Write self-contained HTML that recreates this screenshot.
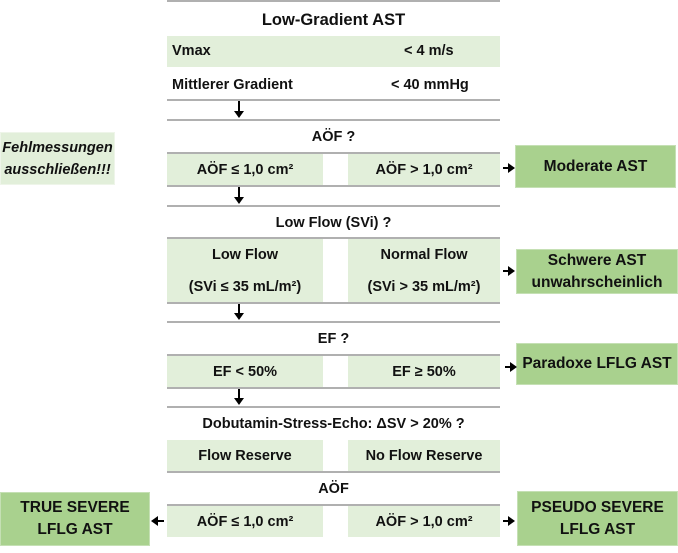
<!DOCTYPE html>
<html><head><meta charset="utf-8"><style>
body{margin:0;width:678px;height:553px;background:#fff;position:relative;overflow:hidden;font-family:"Liberation Sans",sans-serif;font-weight:bold;font-size:14.5px;color:#111}
div{position:absolute;box-sizing:border-box}
.l{left:167px;width:333px;height:2px;background:#b0b0b0}
.g{background:#e2efda}
.c{display:flex;align-items:center;justify-content:center;text-align:center}
.d{background:#a9d18e;border:1px solid #c5e0b4;font-size:15.5px;line-height:22px}
.va{width:2px;background:#000}
.ah{width:0;height:0;border-left:5px solid transparent;border-right:5px solid transparent;border-top:7px solid #000}
.hr{height:2px;background:#000}
.ar{width:0;height:0;border-top:5px solid transparent;border-bottom:5px solid transparent;border-left:7px solid #000}
.al{width:0;height:0;border-top:5px solid transparent;border-bottom:5px solid transparent;border-right:7px solid #000}
</style></head><body>
<div class="l" style="top:0"></div>
<div class="c" style="left:167px;width:333px;top:4px;height:32px;font-size:16.5px">Low-Gradient AST</div>
<div class="g" style="left:167px;width:333px;top:36px;height:31px"></div>
<div style="left:172px;top:43px">Vmax</div><div style="left:404px;top:43px">&lt; 4 m/s</div>
<div style="left:172px;top:77px">Mittlerer Gradient</div><div style="left:391px;top:77px">&lt; 40 mmHg</div>
<div class="l" style="top:99px"></div>
<div class="l" style="top:119px"></div>
<div class="c" style="left:167px;width:333px;top:121px;height:31px">AÖF ?</div>
<div class="l" style="top:152px"></div>
<div class="g c" style="left:167px;width:156px;top:154px;height:31px">AÖF ≤ 1,0 cm²</div>
<div class="g c" style="left:348px;width:152px;top:154px;height:31px">AÖF &gt; 1,0 cm²</div>
<div class="l" style="top:185px"></div>
<div class="l" style="top:205px"></div>
<div class="c" style="left:167px;width:333px;top:207px;height:31px">Low Flow (SVi) ?</div>
<div class="l" style="top:237px"></div>
<div class="g c" style="left:167px;width:156px;top:239px;height:63px;line-height:32px">Low Flow<br>(SVi ≤ 35 mL/m²)</div>
<div class="g c" style="left:348px;width:152px;top:239px;height:63px;line-height:32px">Normal Flow<br>(SVi &gt; 35 mL/m²)</div>
<div class="l" style="top:302px"></div>
<div class="l" style="top:321px"></div>
<div class="c" style="left:167px;width:333px;top:323px;height:31px">EF ?</div>
<div class="l" style="top:354px"></div>
<div class="g c" style="left:167px;width:156px;top:356px;height:31px">EF &lt; 50%</div>
<div class="g c" style="left:348px;width:152px;top:356px;height:31px">EF ≥ 50%</div>
<div class="l" style="top:387px"></div>
<div class="l" style="top:406px"></div>
<div class="c" style="left:167px;width:333px;top:408px;height:31px">Dobutamin-Stress-Echo: ΔSV &gt; 20% ?</div>
<div class="g c" style="left:167px;width:156px;top:440px;height:31px">Flow Reserve</div>
<div class="g c" style="left:348px;width:152px;top:440px;height:31px">No Flow Reserve</div>
<div class="l" style="top:471px"></div>
<div class="c" style="left:167px;width:333px;top:473px;height:31px">AÖF</div>
<div class="l" style="top:504px"></div>
<div class="g c" style="left:167px;width:156px;top:506px;height:31px">AÖF ≤ 1,0 cm²</div>
<div class="g c" style="left:348px;width:152px;top:506px;height:31px">AÖF &gt; 1,0 cm²</div>
<div class="va" style="left:238px;top:101px;height:11px"></div><div class="ah" style="left:234px;top:111px"></div>
<div class="va" style="left:238px;top:187px;height:11px"></div><div class="ah" style="left:234px;top:197px"></div>
<div class="va" style="left:238px;top:304px;height:10px"></div><div class="ah" style="left:234px;top:313px"></div>
<div class="va" style="left:238px;top:389px;height:10px"></div><div class="ah" style="left:234px;top:398px"></div>
<div class="g c" style="left:0;top:132px;width:115px;height:53px;font-style:italic;font-size:14.5px;line-height:22px;border:1px solid #eef5e9">Fehlmessungen<br>ausschließen!!!</div>
<div class="d c" style="left:515px;top:145px;width:161px;height:43px">Moderate AST</div>
<div class="d c" style="left:516px;top:249px;width:162px;height:45px">Schwere AST<br>unwahrscheinlich</div>
<div class="d c" style="left:516px;top:343px;width:162px;height:42px">Paradoxe LFLG AST</div>
<div class="d c" style="left:0;top:492px;width:150px;height:54px">TRUE SEVERE<br>LFLG AST</div>
<div class="d c" style="left:517px;top:491px;width:161px;height:55px">PSEUDO SEVERE<br>LFLG AST</div>
<div class="hr" style="left:503px;top:167px;width:6px"></div><div class="ar" style="left:508px;top:163px"></div>
<div class="hr" style="left:503px;top:270px;width:6px"></div><div class="ar" style="left:508px;top:266px"></div>
<div class="hr" style="left:505px;top:366px;width:6px"></div><div class="ar" style="left:510px;top:362px"></div>
<div class="hr" style="left:503px;top:520px;width:6px"></div><div class="ar" style="left:508px;top:516px"></div>
<div class="hr" style="left:158px;top:520px;width:6px"></div><div class="al" style="left:151px;top:516px"></div>
</body></html>
